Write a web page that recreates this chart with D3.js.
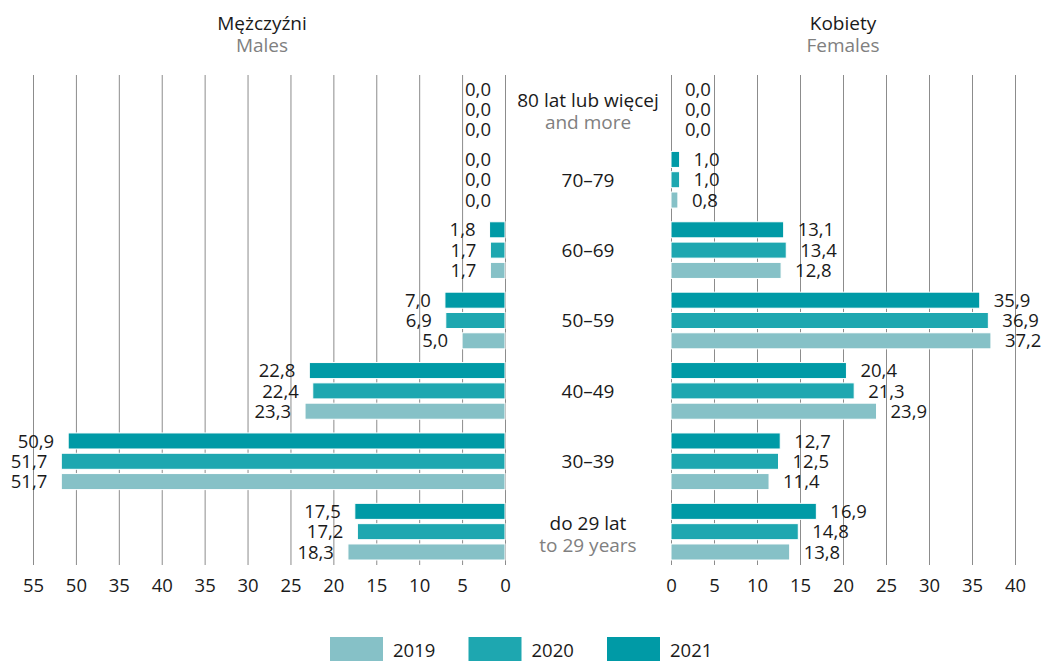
<!DOCTYPE html>
<html lang="pl">
<head>
<meta charset="UTF-8">
<script src="https://d3js.org/d3.v7.min.js"></script>
<style>
    body { margin: 0; background: #fff; }
    svg text { font-family: "Open Sans", sans-serif; fill: #1a1a1a; }
    .grid line { stroke: #8c8c8c; stroke-width: 1; }
    .grid .domain { display: none; }
    .grid text { font-size: 18.5px; }
    .val { font-size: 18.5px; }
    .cat { font-size: 19px; text-anchor: middle; }
    .sub { fill: #808080 !important; }
    .bar { stroke: #fff; stroke-width: 1; }
</style>
</head>
<body>
<svg width="1047" height="661"></svg>
<script>
// dane
const groups = ["80+", "70–79", "60–69", "50–59", "40–49", "30–39", "do 29"];
const groupLabelsPl = ["80 lat lub więcej", "70–79", "60–69", "50–59", "40–49", "30–39", "do 29 lat"];
const groupLabelsEn = ["and more", "", "", "", "", "", "to 29 years"];
const years = ["2021", "2020", "2019"];

const males2021 = [0.0, 0.0, 1.8, 7.0, 22.8, 50.9, 17.5];
const males2020 = [0.0, 0.0, 1.7, 6.9, 22.4, 51.7, 17.2];
const males2019 = [0.0, 0.0, 1.7, 5.0, 23.3, 51.7, 18.3];

const females2021 = [0.0, 1.0, 13.1, 35.9, 20.4, 12.7, 16.9];
const females2020 = [0.0, 1.0, 13.4, 36.9, 21.3, 12.5, 14.8];
const females2019 = [0.0, 0.8, 12.8, 37.2, 23.9, 11.4, 13.8];

const maleTicks = [55, 50, 45, 40, 35, 30, 25, 20, 15, 10, 5, 0];
const maleTickLabels = ["55", "50", "35", "40", "35", "30", "25", "20", "15", "10", "5", "0"];
const femaleTicks = [0, 5, 10, 15, 20, 25, 30, 35, 40];

const colors = { "2019": "#86c1c7", "2020": "#1ea7b0", "2021": "#009aa6" };
const legendYears = ["2019", "2020", "2021"];

const svg = d3.select("svg");

const gridTop = 75, gridBottom = 565;

// skale
const xM = d3.scaleLinear().domain([0, 55]).range([505, 33]);
const xF = d3.scaleLinear().domain([0, 40]).range([671, 1015]);

const y0 = d3.scaleBand().domain(groups).range([81, 560]).paddingInner(0.195);
const y1 = d3.scaleBand().domain(years).range([0, y0.bandwidth()]).paddingInner(0.21);

const fmt = v => d3.format(".1f")(v).replace(".", ",");

// siatka + osie
svg.append("g")
    .attr("class", "grid")
    .attr("transform", `translate(0,${gridBottom})`)
    .call(d3.axisBottom(xM).tickValues(maleTicks)
        .tickSize(-(gridBottom - gridTop))
        .tickPadding(14)
        .tickFormat((d, i) => maleTickLabels[i]));

svg.append("g")
    .attr("class", "grid")
    .attr("transform", `translate(0,${gridBottom})`)
    .call(d3.axisBottom(xF).tickValues(femaleTicks)
        .tickSize(-(gridBottom - gridTop))
        .tickPadding(14)
        .tickFormat(d => d));

// słupki
const maleRows = [];
const femaleRows = [];
groups.forEach((g, i) => {
    maleRows.push({ g, year: "2021", v: males2021[i] }, { g, year: "2020", v: males2020[i] }, { g, year: "2019", v: males2019[i] });
    femaleRows.push({ g, year: "2021", v: females2021[i] }, { g, year: "2020", v: females2020[i] }, { g, year: "2019", v: females2019[i] });
});

const barY = d => y0(d.g) + y1(d.year);

svg.append("g").selectAll("rect")
    .data(maleRows.filter(d => d.v > 0))
    .join("rect")
    .attr("class", "bar")
    .attr("x", d => xM(d.v))
    .attr("y", barY)
    .attr("width", d => xM(0) - xM(d.v))
    .attr("height", y1.bandwidth())
    .attr("fill", d => colors[d.year]);

svg.append("g").selectAll("rect")
    .data(femaleRows.filter(d => d.v > 0))
    .join("rect")
    .attr("class", "bar")
    .attr("x", xF(0))
    .attr("y", barY)
    .attr("width", d => xF(d.v) - xF(0))
    .attr("height", y1.bandwidth())
    .attr("fill", d => colors[d.year]);

// etykiety wartości
svg.append("g").selectAll("text")
    .data(maleRows)
    .join("text")
    .attr("class", "val")
    .attr("x", d => xM(d.v) - 14)
    .attr("y", d => barY(d) + y1.bandwidth() / 2)
    .attr("dy", "0.36em")
    .attr("text-anchor", "end")
    .text(d => fmt(d.v));

svg.append("g").selectAll("text")
    .data(femaleRows)
    .join("text")
    .attr("class", "val")
    .attr("x", d => xF(d.v) + 14)
    .attr("y", d => barY(d) + y1.bandwidth() / 2)
    .attr("dy", "0.36em")
    .text(d => fmt(d.v));

// etykiety grup
const cx = (xM(0) + xF(0)) / 2;
groups.forEach((g, i) => {
    const cy = y0(g) + y0.bandwidth() / 2;
    const two = groupLabelsEn[i] !== "";
    svg.append("text").attr("class", "cat")
        .attr("x", cx).attr("y", two ? cy - 9 : cy).attr("dy", "0.36em")
        .text(groupLabelsPl[i]);
    if (two) {
        svg.append("text").attr("class", "cat sub")
            .attr("x", cx).attr("y", cy + 13).attr("dy", "0.36em")
            .text(groupLabelsEn[i]);
    }
});

// tytuły paneli
[["Mężczyźni", "Males", 262], ["Kobiety", "Females", 843]].forEach(([pl, en, x]) => {
    svg.append("text").attr("class", "cat").attr("x", x).attr("y", 30).text(pl);
    svg.append("text").attr("class", "cat sub").attr("x", x).attr("y", 52).text(en);
});

// legenda
const legend = svg.append("g").selectAll("g")
    .data(legendYears)
    .join("g")
    .attr("transform", (d, i) => `translate(${330 + i * 138.5},637)`);
legend.append("rect").attr("width", 53).attr("height", 26).attr("fill", d => colors[d]);
legend.append("text").attr("class", "val").attr("x", 63).attr("y", 20).text(d => d);
</script>
</body>
</html>
